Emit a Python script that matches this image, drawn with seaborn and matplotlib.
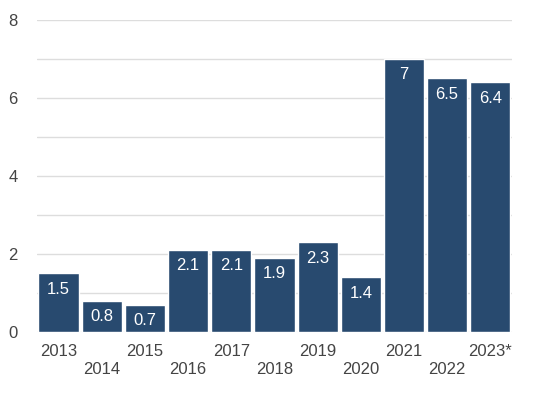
"""Bar chart of yearly values, 2013-2023, labels staggered on two rows."""

import matplotlib

matplotlib.use("Agg")
import pandas as pd
import seaborn as sns
from matplotlib import pyplot as plt
from matplotlib.ticker import MultipleLocator

years = ["2013", "2014", "2015", "2016", "2017", "2018", "2019", "2020", "2021", "2022", "2023*"]
values = [1.5, 0.8, 0.7, 2.1, 2.1, 1.9, 2.3, 1.4, 7, 6.5, 6.4]
value_labels = ["1.5", "0.8", "0.7", "2.1", "2.1", "1.9", "2.3", "1.4", "7", "6.5", "6.4"]

BAR_COLOR = "#284a6f"
TEXT_COLOR = "#444444"

sns.set_style("white")
plt.rcParams["font.family"] = ["Liberation Sans", "DejaVu Sans"]

df = pd.DataFrame({"year": years, "value": values})

fig = plt.figure(figsize=(5.36, 3.98), dpi=100)
ax = fig.add_axes([0.069, 0.166, 0.886, 0.784])

sns.barplot(data=df, x="year", y="value", color=BAR_COLOR, saturation=1, width=0.93, ax=ax, zorder=3)

ax.set_ylim(0, 8)
ax.set_xlim(-0.5, len(years) - 0.5)
ax.yaxis.set_major_locator(MultipleLocator(2))
ax.yaxis.set_minor_locator(MultipleLocator(1))
ax.grid(axis="y", which="both", color="#dddddd", linewidth=1, zorder=0)
ax.set_axisbelow(True)
for side in ("top", "right", "left", "bottom"):
    ax.spines[side].set_visible(False)

# staggered x labels: every second year goes on a lower row
ax.set_xticks(range(len(years)))
ax.set_xticklabels([y if i % 2 == 0 else "\n" + y for i, y in enumerate(years)])
ax.tick_params(axis="x", length=0, pad=9, labelsize=12, labelcolor=TEXT_COLOR)
ax.tick_params(axis="y", which="both", length=0, pad=14, labelsize=12, labelcolor=TEXT_COLOR)
ax.set_xlabel("")
ax.set_ylabel("")

for bar, label in zip(ax.patches, value_labels):
    ax.annotate(
        label,
        (bar.get_x() + bar.get_width() / 2, bar.get_height()),
        xytext=(0, -6),
        textcoords="offset points",
        ha="center",
        va="top",
        color="white",
        fontsize=12,
        zorder=4,
    )

fig.savefig("out.png", dpi=100)
